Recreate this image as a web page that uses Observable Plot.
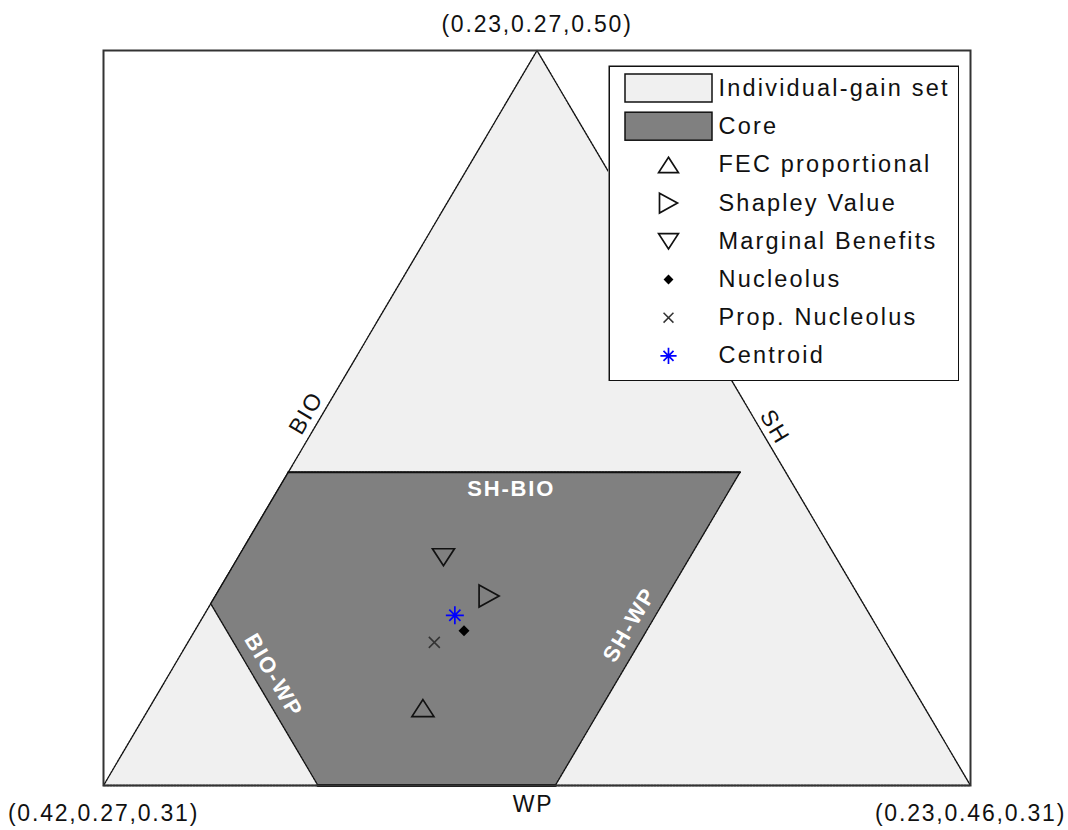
<!DOCTYPE html>
<html><head><meta charset="utf-8">
<script src="https://cdn.jsdelivr.net/npm/d3@7"></script>
<script src="https://cdn.jsdelivr.net/npm/@observablehq/plot@0.6"></script>
<style>
body{margin:0;background:#fff;}
#wrap{position:relative;width:1068px;height:830px;font-family:"Liberation Sans",Arial,sans-serif;}
#wrap svg{position:absolute;}
#wrap svg text{letter-spacing:1.8px;}
#wrap svg.lg text{letter-spacing:2.2px;}
</style></head><body><div id="wrap"></div>
<script>
// Shares in each triple are (SH, BIO, WP)
const vertexSH  = [0.23, 0.42, 0.23];   // top, bottom-left, bottom-right
const vertexBIO = [0.27, 0.27, 0.46];
const vertexWP  = [0.50, 0.31, 0.31];

// Core polygon vertices
const coreSH  = [0.339, 0.240, 0.321, 0.373, 0.373];
const coreBIO = [0.270, 0.369, 0.369, 0.317, 0.270];
const coreWP  = [0.391, 0.391, 0.310, 0.310, 0.357];

// Allocation rules
const solutionNames = ["FEC proportional","Shapley Value","Marginal Benefits","Nucleolus","Prop. Nucleolus","Centroid"];
const solSH  = [0.340, 0.311, 0.316, 0.321, 0.329, 0.321];
const solBIO = [0.330, 0.330, 0.315, 0.329, 0.324, 0.325];
const solWP  = [0.330, 0.359, 0.369, 0.350, 0.347, 0.354];

const areaNames = ["Individual-gain set","Core"];
const edgeNames = ["BIO","SH","WP"];
const coreEdgeNames = ["SH-BIO","BIO-WP","SH-WP"];

// ternary -> cartesian
const bioMin = d3.min(vertexBIO), wpMin = d3.min(vertexWP);
const span = d3.max(vertexWP) - wpMin;
const proj = (sh, bio, wp) => {
  const u = (bio - bioMin) / span, w = (wp - wpMin) / span;
  return {x: u + w / 2, y: w, sh, bio, wp};
};
const verts = vertexSH.map((s, i) => proj(s, vertexBIO[i], vertexWP[i]));
const tri = [verts[1], verts[2], verts[0]];
const core = coreSH.map((s, i) => proj(s, coreBIO[i], coreWP[i]));
const sols = solutionNames.map((n, i) => ({name: n, ...proj(solSH[i], solBIO[i], solWP[i])}));
const mid = (a, b) => ({x: (a.x + b.x) / 2, y: (a.y + b.y) / 2});
const fmt = v => `(${v.sh.toFixed(2)},${v.bio.toFixed(2)},${v.wp.toFixed(2)})`;

// custom symbols
const sym = f => ({draw(ctx, size) { f(ctx, Math.sqrt(size / Math.PI)); }});
const triUp = sym((c, s) => { c.moveTo(0, -0.85*s); c.lineTo(1.1*s, 0.85*s); c.lineTo(-1.1*s, 0.85*s); c.closePath(); });
const triRight = sym((c, s) => { c.moveTo(-s, -1.1*s); c.lineTo(s, 0); c.lineTo(-s, 1.1*s); c.closePath(); });
const triDown = sym((c, s) => { c.moveTo(-1.1*s, -0.85*s); c.lineTo(1.1*s, -0.85*s); c.lineTo(0, 0.85*s); c.closePath(); });
const diamond = sym((c, s) => { c.moveTo(0, -s); c.lineTo(s, 0); c.lineTo(0, s); c.lineTo(-s, 0); c.closePath(); });
const times = sym((c, s) => { c.moveTo(-s, -s); c.lineTo(s, s); c.moveTo(-s, s); c.lineTo(s, -s); });
const star = sym((c, s) => { c.moveTo(-s, 0); c.lineTo(s, 0); c.moveTo(0, -s); c.lineTo(0, s);
  const d = 0.62*s; c.moveTo(-d, -d); c.lineTo(d, d); c.moveTo(-d, d); c.lineTo(d, -d); });
const styles = {
  "FEC proportional": {symbol: triUp, r: 10, stroke: "#111", fill: "none", strokeWidth: 1.7},
  "Shapley Value": {symbol: triRight, r: 10, stroke: "#111", fill: "none", strokeWidth: 1.7},
  "Marginal Benefits": {symbol: triDown, r: 10, stroke: "#111", fill: "none", strokeWidth: 1.7},
  "Nucleolus": {symbol: diamond, r: 5.5, stroke: "none", fill: "#000"},
  "Prop. Nucleolus": {symbol: times, r: 5.5, stroke: "#333", fill: "none", strokeWidth: 1.5},
  "Centroid": {symbol: star, r: 9, stroke: "#0000ff", fill: "none", strokeWidth: 1.7}
};

const dash = "2,1.2";
const plot = Plot.plot({
  width: 1068, height: 830,
  marginLeft: 103, marginRight: 98, marginTop: 50, marginBottom: 45,
  x: {domain: [0, 1], axis: null},
  y: {domain: [0, 1], axis: null},
  style: {fontFamily: "'Liberation Sans', Arial, sans-serif", background: "white"},
  marks: [
    Plot.line(tri, {x: "x", y: "y", curve: "linear-closed", fill: "#f0f0f0", stroke: "none"}),
    Plot.line(tri, {x: "x", y: "y", curve: "linear-closed", stroke: "#111", strokeWidth: 1.4, strokeDasharray: dash}),
    Plot.line(core, {x: "x", y: "y", curve: "linear-closed", fill: "#808080", stroke: "#111", strokeWidth: 1.4, strokeDasharray: dash}),
    Plot.line(core.slice(0, 2), {x: "x", y: "y", stroke: "#111", strokeWidth: 2}),
    Plot.line(core.slice(2, 4), {x: "x", y: "y", stroke: "#111", strokeWidth: 3}),
    Plot.frame({stroke: "#333", strokeWidth: 2}),
    ...sols.map(s => Plot.dot([s], {x: "x", y: "y", ...styles[s.name]})),
    // vertex labels
    Plot.text([verts[0]], {x: "x", y: "y", text: fmt, dy: -26, fontSize: 23, fill: "#111"}),
    Plot.text([verts[1], verts[2]], {x: "x", y: "y", text: fmt, dy: 28, fontSize: 23, fill: "#111"}),
    // edge labels
    Plot.text([mid(verts[1], verts[0])], {x: "x", y: "y", text: () => edgeNames[0], rotate: -59.4, dx: -14, dy: -5, fontSize: 23, fill: "#111"}),
    Plot.text([mid(verts[2], verts[0])], {x: "x", y: "y", text: () => edgeNames[1], rotate: 59.4, dx: 21, dy: 9, fontSize: 23, fill: "#111"}),
    Plot.text([mid(verts[1], verts[2])], {x: "x", y: "y", text: () => edgeNames[2], dx: -4, dy: 19, fontSize: 23, fill: "#111"}),
    // core edge labels
    Plot.text([mid(core[0], core[1])], {x: "x", y: "y", text: () => coreEdgeNames[0], dx: -3, dy: 17, fontSize: 22, fontWeight: "bold", fill: "white"}),
    Plot.text([mid(core[3], core[4])], {x: "x", y: "y", text: () => coreEdgeNames[1], rotate: 59.5, dx: 9, dy: -19, fontSize: 22, fontWeight: "bold", fill: "white"}),
    Plot.text([mid(core[1], core[2])], {x: "x", y: "y", text: () => coreEdgeNames[2], rotate: -59.5, dx: -18, dy: -4, fontSize: 22, fontWeight: "bold", fill: "white"})
  ]
});
plot.style.left = "0px"; plot.style.top = "0px";

// legend
const entries = [...areaNames, ...solutionNames];
const rowY = i => 23 + i * 38.2;
const patchFill = {"Individual-gain set": "#f0f0f0", "Core": "#808080"};
const legend = Plot.plot({
  width: 351, height: 316, margin: 0,
  x: {domain: [0, 351], range: [0, 351], axis: null},
  y: {domain: [0, 316], range: [0, 316], axis: null},
  style: {fontFamily: "'Liberation Sans', Arial, sans-serif", background: "white"},
  marks: [
    Plot.frame({stroke: "#111", strokeWidth: 1.5, inset: 0.75}),
    Plot.rect(areaNames, {x1: () => 17, x2: () => 104, y1: (d, i) => rowY(i) - 14, y2: (d, i) => rowY(i) + 14,
      fill: d => patchFill[d], stroke: "#111", strokeWidth: 1.5}),
    ...solutionNames.map((n, j) => Plot.dot([n], {x: () => 60, y: () => rowY(j + 2), ...styles[n], r: styles[n].r * 0.9})),
    Plot.text(entries, {x: () => 110, y: (d, i) => rowY(i), text: d => d, textAnchor: "start", fontSize: 23.5, fill: "#111"})
  ]
});
legend.classList.add("lg");
legend.style.left = "608px"; legend.style.top = "65px";

const wrap = document.getElementById("wrap");
wrap.append(plot, legend);
</script></body></html>
